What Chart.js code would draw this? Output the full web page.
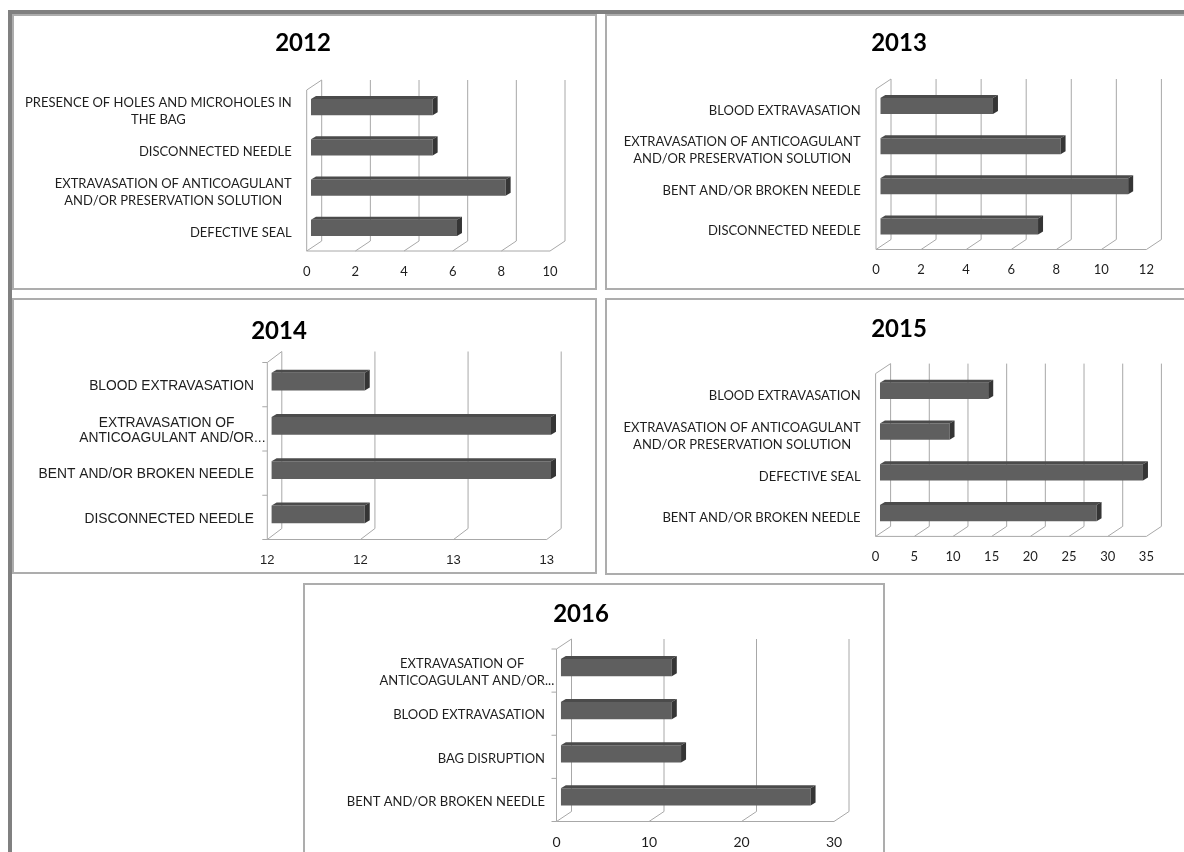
<!DOCTYPE html>
<html>
<head>
<meta charset="utf-8">
<script src="https://cdn.jsdelivr.net/npm/chart.js@4.4.1/dist/chart.umd.min.js"></script>
<style>
  html, body { margin: 0; padding: 0; background: #fff; }
  body { width: 1184px; height: 852px; overflow: hidden; position: relative; }
  .frame-top { position: absolute; left: 8px; top: 10px; width: 1200px; height: 4px; background: #808080; }
  .frame-left { position: absolute; left: 8px; top: 10px; width: 4px; height: 860px; background: #808080; }
  .panel { position: absolute; box-sizing: border-box; border: 2px solid #adadad; background: #fff; }
  .panel .wrap { position: absolute; left: 0; top: 0; right: 0; bottom: 0; }
  .title { position: absolute; font: bold 24px Lato, sans-serif; color: #000; transform: translate(-50%, -50%); white-space: nowrap; }
</style>
</head>
<body>
<div class="frame-top"></div>
<div class="frame-left"></div>
<script>
// incident types per year (top to bottom as listed on each chart)
const cats2012 = [['PRESENCE OF HOLES AND MICROHOLES IN', 'THE BAG'], 'DISCONNECTED NEEDLE',
  ['EXTRAVASATION OF ANTICOAGULANT', 'AND/OR PRESERVATION SOLUTION'], 'DEFECTIVE SEAL'];
const vals2012 = [5, 5, 8, 6];
const ticks2012 = [0, 2, 4, 6, 8, 10];

const cats2013 = ['BLOOD EXTRAVASATION', ['EXTRAVASATION OF ANTICOAGULANT', 'AND/OR PRESERVATION SOLUTION'],
  'BENT AND/OR BROKEN NEEDLE', 'DISCONNECTED NEEDLE'];
const vals2013 = [5, 8, 11, 7];
const ticks2013 = [0, 2, 4, 6, 8, 10, 12];

const cats2014 = ['BLOOD EXTRAVASATION', ['EXTRAVASATION OF', 'ANTICOAGULANT AND/OR...'],
  'BENT AND/OR BROKEN NEEDLE', 'DISCONNECTED NEEDLE'];
const vals2014 = [12, 13, 13, 12];
const ticks2014 = [11.5, 12, 12.5, 13];
const tickLabels2014 = ['12', '12', '13', '13'];

const cats2015 = ['BLOOD EXTRAVASATION', ['EXTRAVASATION OF ANTICOAGULANT', 'AND/OR PRESERVATION SOLUTION'],
  'DEFECTIVE SEAL', 'BENT AND/OR BROKEN NEEDLE'];
const vals2015 = [14, 9, 34, 28];
const ticks2015 = [0, 5, 10, 15, 20, 25, 30, 35];

const cats2016 = [['EXTRAVASATION OF', 'ANTICOAGULANT AND/OR...'], 'BLOOD EXTRAVASATION',
  'BAG DISRUPTION', 'BENT AND/OR BROKEN NEEDLE'];
const vals2016 = [12, 12, 13, 27];
const ticks2016 = [0, 10, 20, 30];

// box = panel frame [x, y, w, h]; plot = front plane [left, top, right, bottom]
const panels = [
  { title: '2012', cats: cats2012, vals: vals2012, ticks: ticks2012,
    box: [12, 14, 585, 276], plot: [306.7, 90, 550, 251], titleAt: [303, 41],
    family: 'Lato', labelSize: 13, lineH: 17, tickSize: 13, gap: 15, wall: [15, -10], catTicks: false },
  { title: '2013', cats: cats2013, vals: vals2013, ticks: ticks2013,
    box: [605, 14, 600, 276], plot: [876, 89, 1146.4, 249.5], titleAt: [899, 41],
    family: 'Lato', labelSize: 13, lineH: 17, tickSize: 13, gap: 15.3, wall: [15, -10], catTicks: false },
  { title: '2014', cats: cats2014, vals: vals2014, ticks: ticks2014, tickLabels: tickLabels2014,
    box: [12, 298, 585, 276], plot: [267.3, 362.5, 546.7, 539.5], titleAt: [279, 329],
    family: 'Liberation Sans', labelSize: 13.8, lineH: 15, tickSize: 13, gap: 13.3, wall: [14.5, -11], catTicks: true },
  { title: '2015', cats: cats2015, vals: vals2015, ticks: ticks2015,
    box: [605, 298, 600, 277], plot: [875.6, 373.6, 1146.4, 536.4], titleAt: [899, 327],
    family: 'Lato', labelSize: 13, lineH: 17, tickSize: 13, gap: 15, wall: [15, -10], catTicks: false },
  { title: '2016', cats: cats2016, vals: vals2016, ticks: ticks2016,
    box: [303, 583, 582, 300], plot: [556.5, 649, 834, 821.5], titleAt: [581, 612],
    family: 'Lato', labelSize: 13, lineH: 17, tickSize: 14, gap: 11.5, wall: [15, -10], catTicks: true }
];

const BORDER = 2;
const AXIS_H = 30;
const TEXT = '#1e1e1e';

// back wall, floor and bar depth faces for the 3-D look
const depth3d = {
  id: 'depth3d',
  beforeDatasetsDraw(chart, args, o) {
    const { ctx, chartArea: a } = chart;
    const x = chart.scales.x;
    const [dx, dy] = o.wall;
    ctx.save();
    ctx.strokeStyle = '#a8a8a8';
    ctx.lineWidth = 1;
    ctx.beginPath();
    x.ticks.forEach(t => {
      const px = x.getPixelForValue(t.value);
      ctx.moveTo(px + dx, a.top + dy);
      ctx.lineTo(px + dx, a.bottom + dy);
      ctx.moveTo(px, a.bottom);
      ctx.lineTo(px + dx, a.bottom + dy);
    });
    ctx.moveTo(a.right, a.bottom);
    ctx.lineTo(a.left, a.bottom);
    ctx.lineTo(a.left, a.top);
    ctx.lineTo(a.left + dx, a.top + dy);
    if (o.catTicks) {
      const n = chart.data.labels.length;
      for (let i = 0; i <= n; i++) {
        const y = a.top + (a.bottom - a.top) * i / n;
        ctx.moveTo(a.left - 5, y);
        ctx.lineTo(a.left, y);
      }
    }
    ctx.stroke();
    ctx.restore();
    // bars sit a little behind the front plane
    ctx.save();
    ctx.translate(o.bar[0], o.bar[1]);
  },
  afterDatasetsDraw(chart, args, o) {
    const { ctx, chartArea: a } = chart;
    const [fx, fy] = o.face;
    chart.getDatasetMeta(0).data.forEach(bar => {
      const { x, y, base, height } = bar.getProps(['x', 'y', 'base', 'height'], true);
      const x0 = Math.max(Math.min(base, x), a.left);
      const x1 = Math.min(Math.max(base, x), a.right);
      const top = y - height / 2, bot = y + height / 2;
      ctx.fillStyle = '#4b4b4b';
      ctx.beginPath();
      ctx.moveTo(x0, top); ctx.lineTo(x1, top); ctx.lineTo(x1 + fx, top + fy); ctx.lineTo(x0 + fx, top + fy);
      ctx.closePath(); ctx.fill();
      ctx.fillStyle = '#353535';
      ctx.beginPath();
      ctx.moveTo(x1, top); ctx.lineTo(x1 + fx, top + fy); ctx.lineTo(x1 + fx, bot + fy); ctx.lineTo(x1, bot);
      ctx.closePath(); ctx.fill();
    });
    ctx.restore();
  }
};

// category labels: block right-aligned, lines centred inside the block
const catLabels = {
  id: 'catLabels',
  afterDraw(chart, args, o) {
    const { ctx, chartArea: a } = chart;
    const ys = chart.scales.y;
    ctx.save();
    ctx.font = `${o.size}px "${o.family}"`;
    ctx.fillStyle = TEXT;
    ctx.textBaseline = 'middle';
    ctx.textAlign = 'left';
    const right = a.left - o.gap;
    chart.data.labels.forEach((lab, i) => {
      const lines = [].concat(lab);
      const widths = lines.map(l => ctx.measureText(l.replace(/\.\.\.$/, '')).width);
      const cx = right - Math.max(...widths) / 2;
      const y0 = ys.getPixelForTick(i) + 1.5 - (lines.length - 1) * o.lineH / 2;
      lines.forEach((l, k) => ctx.fillText(l, cx - widths[k] / 2, y0 + k * o.lineH));
    });
    ctx.restore();
  }
};

panels.forEach(p => {
  const [bx, by, bw, bh] = p.box;
  const [pl, pt, pr, pb] = p.plot;
  const panel = document.createElement('div');
  panel.className = 'panel';
  Object.assign(panel.style, { left: bx + 'px', top: by + 'px', width: bw + 'px', height: bh + 'px' });
  const wrap = document.createElement('div');
  wrap.className = 'wrap';
  const canvas = document.createElement('canvas');
  wrap.appendChild(canvas);
  panel.appendChild(wrap);
  document.body.appendChild(panel);

  const title = document.createElement('div');
  title.className = 'title';
  title.textContent = p.title;
  title.style.left = p.titleAt[0] + 'px';
  title.style.top = p.titleAt[1] + 'px';
  document.body.appendChild(title);

  const ox = bx + BORDER, oy = by + BORDER;
  const cw = bw - 2 * BORDER, ch = bh - 2 * BORDER;

  new Chart(canvas, {
    type: 'bar',
    data: {
      labels: p.cats,
      datasets: [{
        data: p.vals,
        backgroundColor: '#5f5f5f',
        borderWidth: 0,
        barPercentage: 0.4,
        categoryPercentage: 1
      }]
    },
    options: {
      indexAxis: 'y',
      responsive: true,
      maintainAspectRatio: false,
      animation: false,
      events: [],
      layout: {
        padding: { left: pl - ox, top: pt - oy, right: ox + cw - pr, bottom: oy + ch - pb - AXIS_H }
      },
      plugins: {
        legend: { display: false },
        tooltip: { enabled: false },
        depth3d: { wall: p.wall, bar: [4.3, -3], face: [5, -3], catTicks: p.catTicks },
        catLabels: { family: p.family, size: p.labelSize, lineH: p.lineH, gap: p.gap }
      },
      scales: {
        x: {
          type: 'linear',
          min: p.ticks[0],
          max: p.ticks[p.ticks.length - 1],
          afterFit: s => { s.height = AXIS_H; },
          grid: { display: false },
          border: { display: false },
          ticks: {
            stepSize: p.ticks[1] - p.ticks[0],
            padding: 5,
            color: TEXT,
            font: { family: p.family, size: p.tickSize },
            maxRotation: 0,
            callback: (v, i) => p.tickLabels ? p.tickLabels[i] : String(v)
          }
        },
        y: {
          afterFit: s => { s.width = 0; },
          grid: { display: false },
          border: { display: false },
          ticks: { display: false }
        }
      }
    },
    plugins: [depth3d, catLabels]
  });
});
</script>
</body>
</html>
